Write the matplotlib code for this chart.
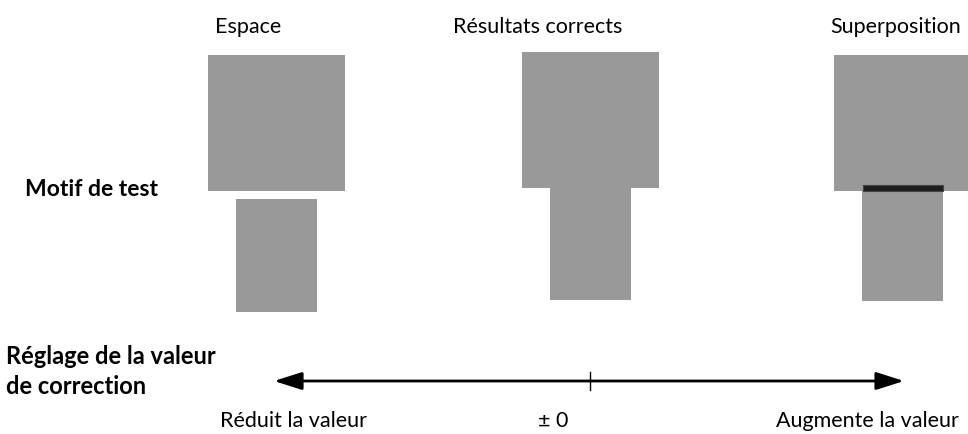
import matplotlib.pyplot as plt
from matplotlib.patches import Rectangle

plt.rcParams['font.family'] = ['Lato', 'DejaVu Sans']

# trois cas du motif de test
titles = ["Espace", "Résultats corrects", "Superposition"]
title_x = [215, 453, 830]
# écart vertical (px) entre le bloc haut et le bloc bas : >0 espace, 0 correct, <0 chevauchement
offsets = [8, 0, -6]
top_left = [208, 522, 834]
top_y = [55, 52, 55]
bottom_h = [113, 112, 116]

scale_labels = ["Réduit la valeur", "± 0", "Augmente la valeur"]
scale_x = [220, 538, 776]

top_w, top_h = 137, 136
bot_w, bot_inset = 81, 28
grey = "#999999"
fs = 15.5

fig = plt.figure(figsize=(9.68, 4.34), dpi=100)
ax = fig.add_axes([0, 0, 1, 1])
ax.set_xlim(0, 968)
ax.set_ylim(434, 0)
ax.axis("off")

for t, tx, off, x0, y0, bh in zip(titles, title_x, offsets, top_left, top_y, bottom_h):
    ax.text(tx, 27, t, fontsize=fs, ha="left", va="center")
    ax.add_patch(Rectangle((x0, y0), top_w, top_h, color=grey, lw=0))
    by = y0 + top_h + off
    ax.add_patch(Rectangle((x0 + bot_inset, by), bot_w, bh, color=grey, lw=0, zorder=2))
    if off < 0:
        ax.add_patch(Rectangle((x0 + bot_inset + 1, by), bot_w - 1, -off,
                               facecolor="#1e1e1e", edgecolor="#444444", lw=0.8, zorder=3))

ax.text(25, 190, "Motif de test", fontsize=16.5, fontweight="bold", ha="left", va="center")
ax.text(6, 357, "Réglage de la valeur", fontsize=17, fontweight="bold", ha="left", va="center")
ax.text(6, 386, "de correction", fontsize=17, fontweight="bold", ha="left", va="center")

# échelle de réglage
for tip in (274, 904):
    ax.annotate("", xy=(tip, 381), xytext=(590, 381),
                arrowprops=dict(arrowstyle="-|>,head_length=0.85,head_width=0.27", color="black",
                                lw=2, mutation_scale=20, shrinkA=0, shrinkB=0))
ax.plot([590, 590], [372, 390], color="black", lw=1)

for lab, sx in zip(scale_labels, scale_x):
    ax.text(sx, 421, lab, fontsize=fs, ha="left", va="center")

fig.savefig("out.png", dpi=100)
